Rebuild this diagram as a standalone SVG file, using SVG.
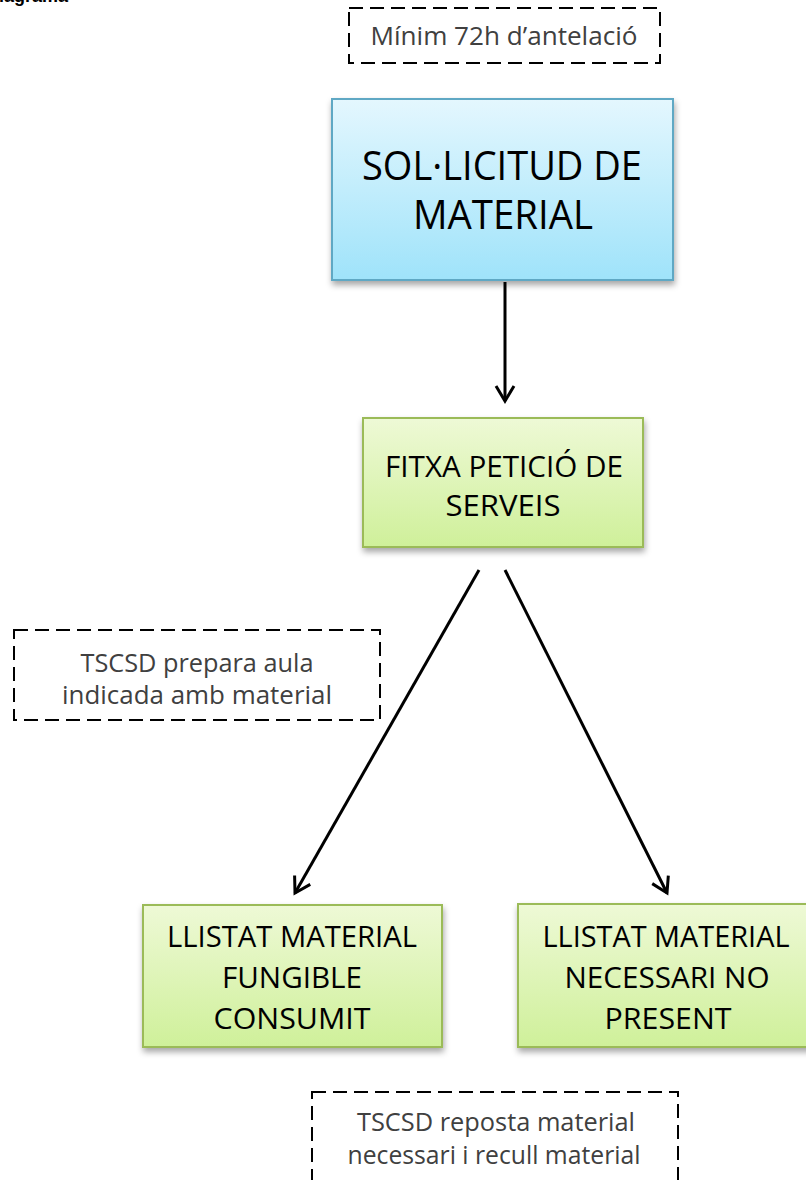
<svg xmlns="http://www.w3.org/2000/svg" width="806" height="1180" viewBox="0 0 806 1180">
<style>
.dash{fill:#fff;stroke:#000;stroke-width:2;stroke-dasharray:14 7}
.note{font-family:"Open Sans","Noto Sans",sans-serif;font-size:25px;fill:#404040;text-anchor:middle}
.big{font-family:"Open Sans","Noto Sans",sans-serif;font-size:40px;fill:#000;text-anchor:middle}
.lbl{font-family:"Open Sans","Noto Sans",sans-serif;font-size:30px;fill:#000;text-anchor:middle}
.blue{fill:url(#gb);stroke:#5fa8c4;stroke-width:2}
.green{fill:url(#gg);stroke:#9bbb59;stroke-width:2}
.conn{stroke:#000;stroke-width:3;fill:none;marker-end:url(#arr)}
</style>
<defs>
<linearGradient id="gb" x1="0" y1="0" x2="0" y2="1"><stop offset="0" stop-color="#e4f7fe"/><stop offset="1" stop-color="#9fe3fa"/></linearGradient>
<linearGradient id="gg" x1="0" y1="0" x2="0" y2="1"><stop offset="0" stop-color="#eef9d6"/><stop offset="1" stop-color="#cff09a"/></linearGradient>
<filter id="sh" x="-10%" y="-10%" width="120%" height="130%"><feDropShadow dx="1" dy="4" stdDeviation="3" flood-color="#000" flood-opacity="0.35"/></filter>
<marker id="arr" markerUnits="userSpaceOnUse" markerWidth="22" markerHeight="22" viewBox="0 0 22 22" refX="19" refY="11" orient="auto"><path d="M4,2 L19,11 L4,20" fill="none" stroke="#000" stroke-width="3"/></marker>
</defs>
<rect width="806" height="1180" fill="#fff"/>
<text x="68" y="2" font-family="Liberation Sans,sans-serif" font-size="18" font-weight="bold" text-anchor="end">Diagrama</text>
<g id="note-top"><rect class="dash" x="349" y="8" width="311" height="55"/><text class="note" x="504" y="45" textLength="267" lengthAdjust="spacingAndGlyphs">Mínim 72h d’antelació</text></g>
<g id="sol"><rect class="blue" filter="url(#sh)" x="332" y="99" width="341" height="181"/><text class="big" x="502" y="180" textLength="280" lengthAdjust="spacingAndGlyphs">SOL·LICITUD DE</text><text class="big" x="503" y="229" textLength="180" lengthAdjust="spacingAndGlyphs">MATERIAL</text></g>
<g id="fitxa"><rect class="green" filter="url(#sh)" x="363" y="418" width="280" height="129"/><text class="lbl" x="504" y="477" textLength="238" lengthAdjust="spacingAndGlyphs">FITXA PETICIÓ DE</text><text class="lbl" x="503" y="516" textLength="115" lengthAdjust="spacingAndGlyphs">SERVEIS</text></g>
<g id="note-left"><rect class="dash" x="14" y="630" width="366" height="90"/><text class="note" x="197" y="672" textLength="233" lengthAdjust="spacingAndGlyphs">TSCSD prepara aula</text><text class="note" x="197" y="704" textLength="270" lengthAdjust="spacingAndGlyphs">indicada amb material</text></g>
<g id="fungible"><rect class="green" filter="url(#sh)" x="143" y="905" width="299" height="142"/><text class="lbl" x="292" y="947" textLength="250" lengthAdjust="spacingAndGlyphs">LLISTAT MATERIAL</text><text class="lbl" x="292" y="988" textLength="140" lengthAdjust="spacingAndGlyphs">FUNGIBLE</text><text class="lbl" x="292" y="1029" textLength="157" lengthAdjust="spacingAndGlyphs">CONSUMIT</text></g>
<g id="necessari"><rect class="green" filter="url(#sh)" x="518" y="904" width="296" height="143"/><text class="lbl" x="666" y="947" textLength="247" lengthAdjust="spacingAndGlyphs">LLISTAT MATERIAL</text><text class="lbl" x="667" y="988" textLength="205" lengthAdjust="spacingAndGlyphs">NECESSARI NO</text><text class="lbl" x="668" y="1029" textLength="127" lengthAdjust="spacingAndGlyphs">PRESENT</text></g>
<g id="note-bottom"><rect class="dash" x="312" y="1092" width="366" height="110"/><text class="note" x="496" y="1131" textLength="278" lengthAdjust="spacingAndGlyphs">TSCSD reposta material</text><text class="note" x="494" y="1164" textLength="293" lengthAdjust="spacingAndGlyphs">necessari i recull material</text></g>
<g id="connectors">
<line class="conn" x1="505" y1="282" x2="505" y2="401"/>
<line class="conn" x1="479" y1="570" x2="295" y2="893"/>
<line class="conn" x1="505" y1="570" x2="667" y2="893"/>
</g>
</svg>
